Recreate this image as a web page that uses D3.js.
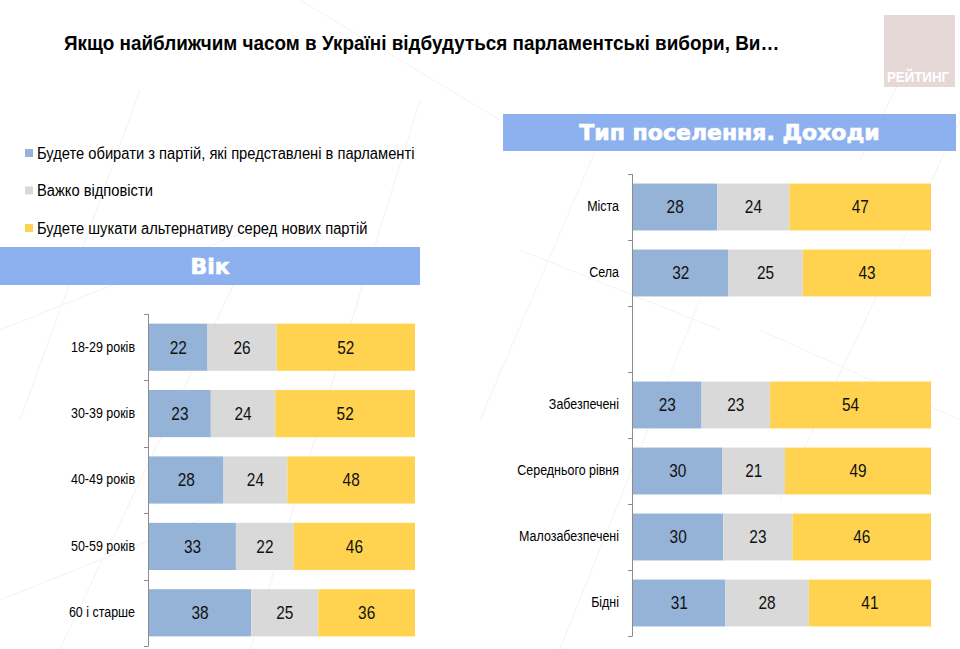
<!DOCTYPE html>
<html><head><meta charset="utf-8">
<script src="https://cdn.jsdelivr.net/npm/d3@7"></script>
<style>
html,body{margin:0;padding:0;background:#fff;}
svg{display:block;}
</style></head>
<body>
<svg id="c" width="960" height="649"></svg>
<script>
const title = "Якщо найближчим часом в Україні відбудуться парламентські вибори, Ви…";
const seriesNames = ["Будете обирати з партій, які представлені в парламенті","Важко відповісти","Будете шукати альтернативу серед нових партій"];
const seriesColors = ["#95B3D7","#D9D9D9","#FFD34F"];

const ageTitle = "Вік";
const ageCats = ["18-29 років","30-39 років","40-49 років","50-59 років","60 і старше"];
const ageParl = [22,23,28,33,38];
const ageHard = [26,24,24,22,25];
const ageNew  = [52,52,48,46,36];

const rightTitle = "Тип поселення. Доходи";
const rightCats = ["Міста","Села","","Забезпечені","Середнього рівня","Малозабезпечені","Бідні"];
const rightParl = [28,32,null,23,30,30,31];
const rightHard = [24,25,null,23,21,23,28];
const rightNew  = [47,43,null,54,49,46,41];

const FONT = "'Liberation Sans',Arial,sans-serif";
const svg = d3.select("#c");

function txt(parent, x, y, s, sx, size, opts={}){
  const t = parent.append("text")
    .attr("transform",`translate(${x},${y}) scale(${sx},1)`)
    .attr("font-family",opts.family||FONT).attr("font-size",size)
    .attr("font-weight",opts.weight||"normal").attr("fill",opts.fill||"#000")
    .attr("text-anchor",opts.anchor||"start").text(s);
  if(opts.dy) t.attr("dy",opts.dy);
  return t;
}

// faint decorative background lines
const deco = [[140,90,20,420],[250,250,60,649],[420,100,250,649],[600,140,480,420],[700,300,560,649],[960,120,780,500],[930,20,860,160],[0,330,250,230],[300,0,500,120],[520,250,720,330],[760,330,960,420],[0,600,200,520]];
svg.append("g").selectAll("line").data(deco).join("line")
  .attr("x1",d=>d[0]).attr("y1",d=>d[1]).attr("x2",d=>d[2]).attr("y2",d=>d[3])
  .attr("stroke","#f2f2f2").attr("stroke-width",1);

// title
txt(svg, 64, 50, title, 0.9, 21, {weight:"bold"});

// logo
svg.append("rect").attr("x",884).attr("y",15).attr("width",71).attr("height",72).attr("fill","#E7D8D8");
txt(svg, 918, 82, "РЕЙТИНГ", 0.95, 14, {weight:"bold", fill:"#fff", anchor:"middle"});

// legend
const lg = svg.append("g").selectAll("g").data(seriesNames).join("g")
  .attr("transform",(d,i)=>`translate(25,${153 + i*37.5})`);
lg.append("rect").attr("x",0).attr("y",-4).attr("width",8).attr("height",8).attr("fill",(d,i)=>seriesColors[i]);
lg.each(function(d){ txt(d3.select(this), 12, 0, d, 0.92, 16, {dy:"0.36em"}); });

// header bars
function header(x,y,w,h,s,fs){
  svg.append("rect").attr("x",x).attr("y",y).attr("width",w).attr("height",h).attr("fill","#8DB1EE");
  txt(svg, x+w/2, y+h/2, s, 1.0, fs, {family:"'DejaVu Sans',sans-serif", weight:"bold", fill:"#fff", anchor:"middle", dy:"0.36em"})
    .attr("stroke","#fff").attr("stroke-width",0.7);
}
header(0,247,420,38,ageTitle,22);
header(503,114,453,37,rightTitle,22);

function chart(cats, parl, hard, nw, x0, x1, y0, y1){
  const rows = cats.map((c,i)=>({c, v:[parl[i],hard[i],nw[i]]}));
  const x = d3.scaleLinear().domain([0,100]).range([x0,x1]);
  const y = d3.scaleBand().domain(cats.map((c,i)=>i)).range([y0,y1]).paddingInner(0.29).paddingOuter(0.145);
  const g = svg.append("g");
  rows.forEach((r,i)=>{
    if(r.v[0]==null) return;
    const tot = d3.sum(r.v);
    let acc = 0;
    r.v.forEach((v,k)=>{
      const a = acc/tot*100, b = (acc+v)/tot*100;
      acc += v;
      g.append("rect").attr("x",x(a)).attr("y",y(i)).attr("width",x(b)-x(a)).attr("height",y.bandwidth())
        .attr("fill",seriesColors[k]);
      txt(g, (x(a)+x(b))/2, y(i)+y.bandwidth()/2, v, 0.88, 17.5, {anchor:"middle", dy:"0.36em", fill:"#111"});
    });
  });
  // axis
  const sx = 0.89;
  const ax = g.append("g").attr("transform",`translate(${x0},0)`)
    .call(d3.axisLeft(y).tickSize(0).tickPadding(14).tickFormat(i=>cats[i]));
  ax.select(".domain").remove();
  ax.selectAll("text").attr("font-family",FONT).attr("font-size",14).attr("fill","#000")
    .attr("x",-14/sx).attr("transform",`scale(${sx},1)`);
  g.append("line").attr("x1",x0-0.5).attr("x2",x0-0.5).attr("y1",y0).attr("y2",y1).attr("stroke","#8c8c8c");
  const bounds = cats.map((c,i)=>y(i)-y.step()*y.paddingInner()/2).concat([y1]);
  bounds[0] = y0;
  g.selectAll(".bt").data(bounds).join("line").attr("class","bt")
    .attr("x1",x0-5).attr("x2",x0-0.5).attr("y1",d=>Math.round(d)+0.5).attr("y2",d=>Math.round(d)+0.5).attr("stroke","#8c8c8c");
}
chart(ageCats, ageParl, ageHard, ageNew, 149, 415, 314, 646);
chart(rightCats, rightParl, rightHard, rightNew, 633, 931, 174, 636);
</script>
</body></html>
